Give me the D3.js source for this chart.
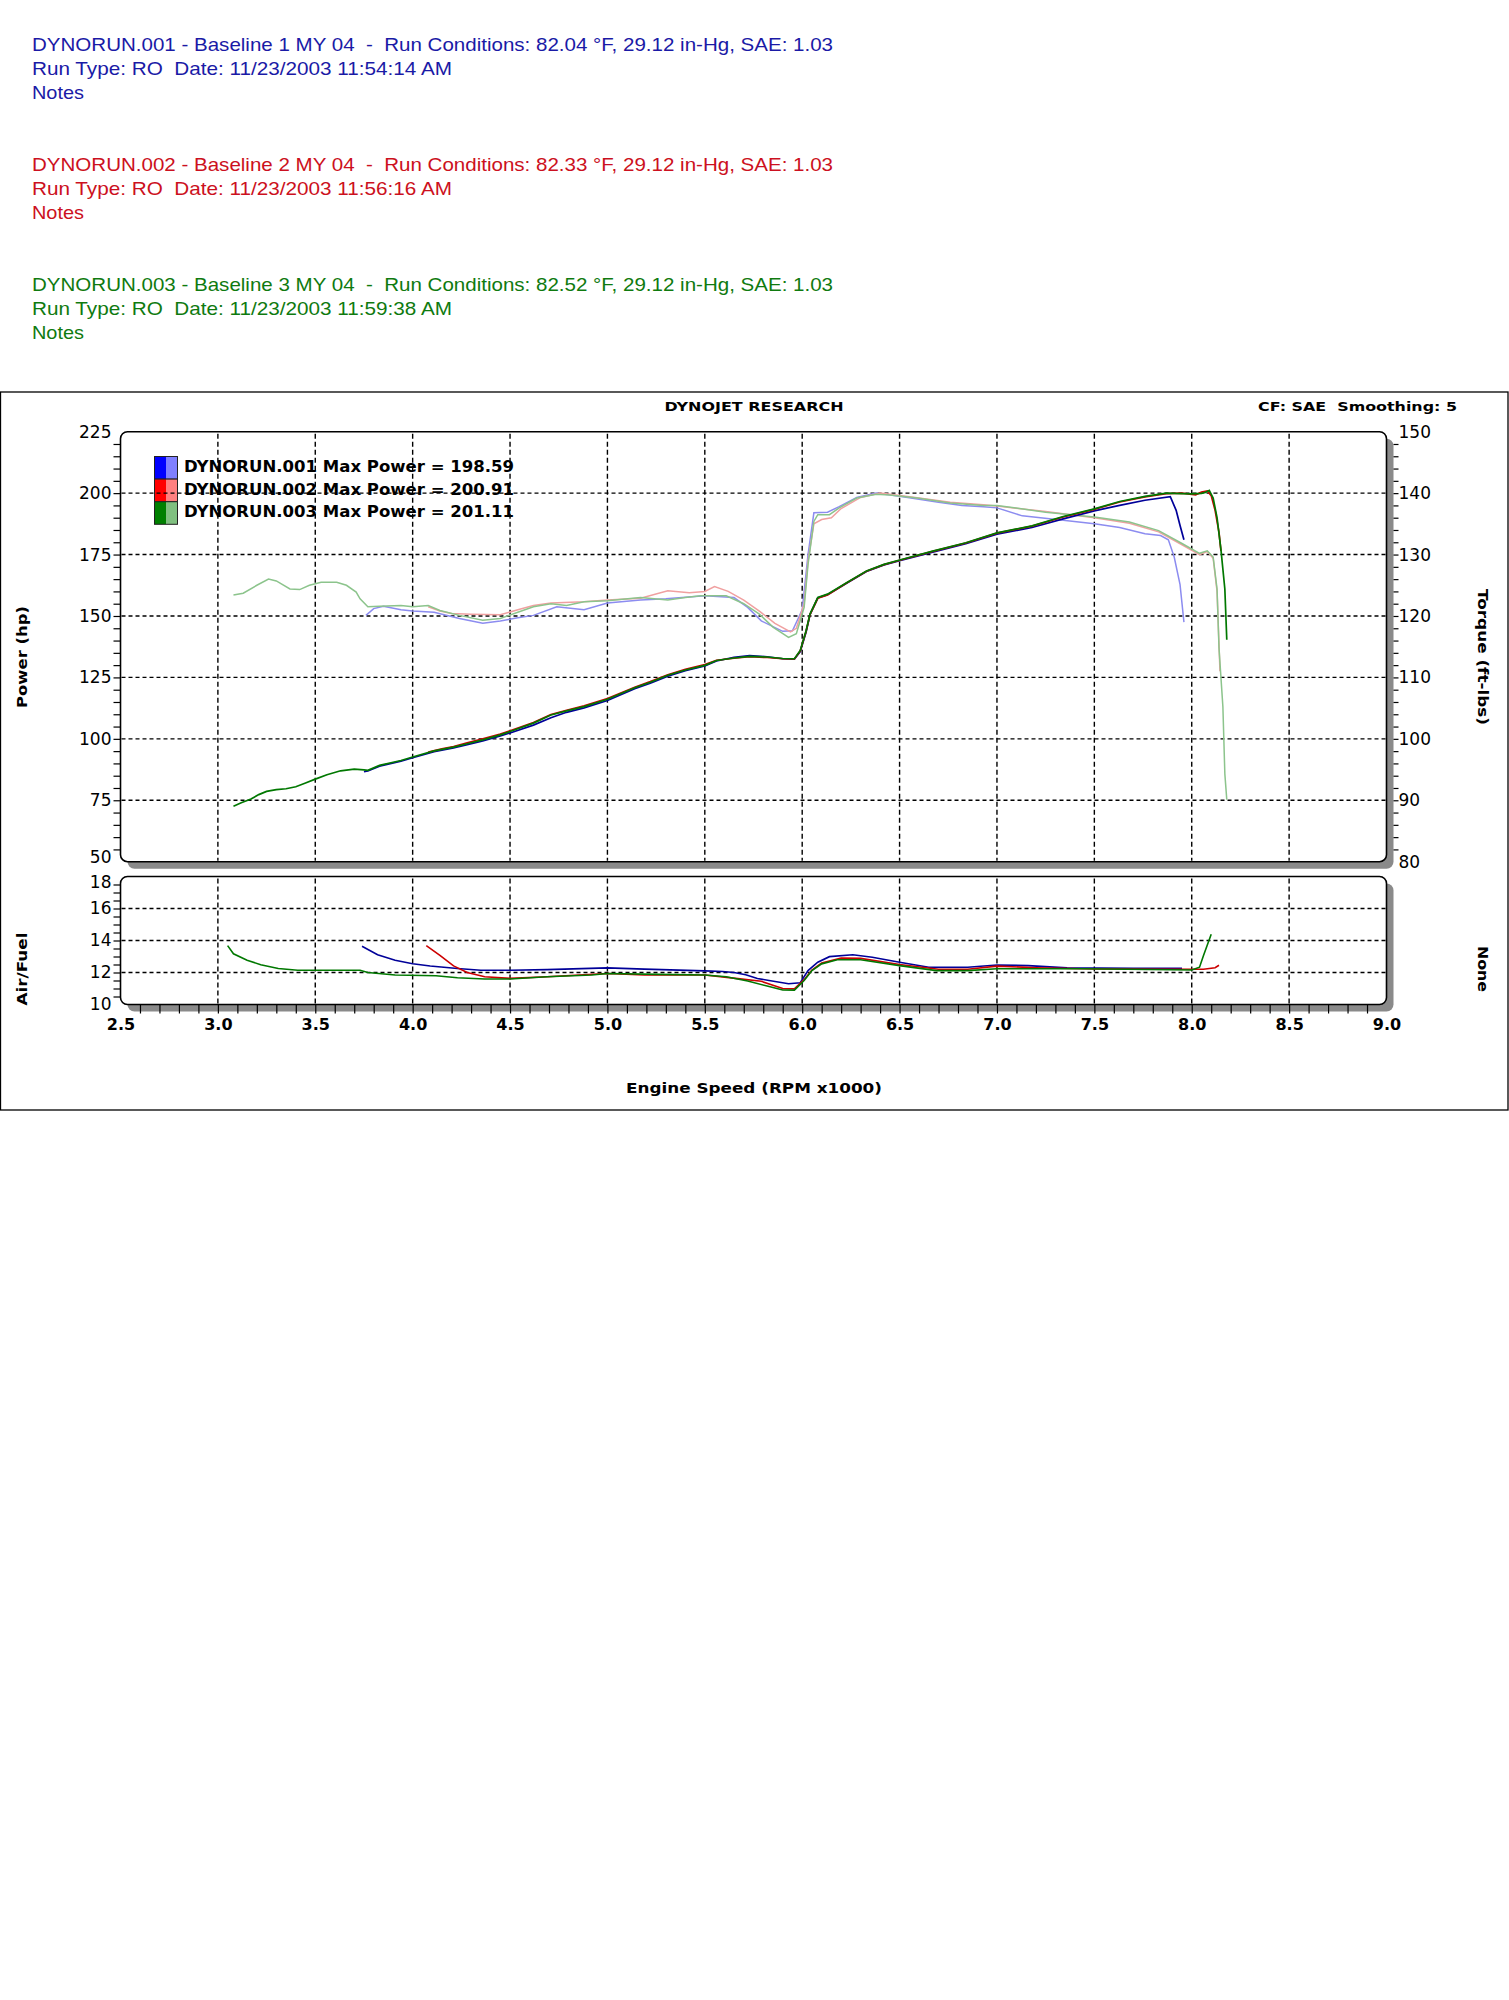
<!DOCTYPE html>
<html><head><meta charset="utf-8">
<script src="https://cdn.jsdelivr.net/npm/d3@7"></script>
<style>body{margin:0;background:#fff}svg{display:block}</style>
</head><body>
<svg id="c" width="1509" height="2000"></svg>
<script>
// ---------- DATA ----------
const runNames = ["DYNORUN.001", "DYNORUN.002", "DYNORUN.003"];
const runTitles = [
  "DYNORUN.001 - Baseline 1 MY 04  -  Run Conditions: 82.04 \u00B0F, 29.12 in-Hg, SAE: 1.03",
  "DYNORUN.002 - Baseline 2 MY 04  -  Run Conditions: 82.33 \u00B0F, 29.12 in-Hg, SAE: 1.03",
  "DYNORUN.003 - Baseline 3 MY 04  -  Run Conditions: 82.52 \u00B0F, 29.12 in-Hg, SAE: 1.03"];
const runDates = [
  "Run Type: RO  Date: 11/23/2003 11:54:14 AM",
  "Run Type: RO  Date: 11/23/2003 11:56:16 AM",
  "Run Type: RO  Date: 11/23/2003 11:59:38 AM"];
const maxPower = ["198.59", "200.91", "201.11"];
const xTicks = [2.5, 3.0, 3.5, 4.0, 4.5, 5.0, 5.5, 6.0, 6.5, 7.0, 7.5, 8.0, 8.5, 9.0];
const hpTicks = [50, 75, 100, 125, 150, 175, 200, 225];
const tqTicks = [80, 90, 100, 110, 120, 130, 140, 150];
const afTicks = [10, 12, 14, 16, 18];

// power (hp) vs rpm x1000
const power1 = [[3.75,86.6],[3.77,86.9],[3.83,88.9],[3.94,90.9],[4.00,92.3],[4.11,94.8],[4.21,96.3],[4.28,97.6],[4.36,99.2],[4.45,101.2],[4.50,102.4],[4.62,105.6],[4.71,108.6],[4.79,110.8],[4.88,112.6],[5.00,115.6],[5.14,120.4],[5.22,122.6],[5.31,125.5],[5.40,127.7],[5.50,129.7],[5.56,131.7],[5.65,133.2],[5.73,133.9],[5.82,133.4],[5.90,132.6],[5.96,132.4],[5.99,135.5],[6.02,143.5],[6.04,150.5],[6.08,157.3],[6.13,158.7],[6.23,163.4],[6.33,168.1],[6.42,170.8],[6.51,172.7],[6.67,176.0],[6.84,179.4],[7.00,183.3],[7.18,186.0],[7.34,189.5],[7.50,192.8],[7.63,195.0],[7.76,197.1],[7.89,198.6],[7.92,193.0],[7.94,186.8],[7.96,181.0]];
const power2 = [[4.08,94.6],[4.15,95.9],[4.21,96.9],[4.28,98.4],[4.36,100.0],[4.45,101.9],[4.50,103.3],[4.62,106.6],[4.71,109.9],[4.79,111.6],[4.88,113.4],[5.00,116.4],[5.14,121.0],[5.22,123.3],[5.31,126.1],[5.40,128.3],[5.50,130.2],[5.56,132.0],[5.65,132.8],[5.73,133.4],[5.82,133.1],[5.90,132.6],[5.96,132.5],[5.99,135.8],[6.02,143.8],[6.04,150.6],[6.08,157.2],[6.13,158.6],[6.23,163.5],[6.33,168.2],[6.42,170.9],[6.51,172.9],[6.67,176.3],[6.84,179.7],[7.00,183.7],[7.18,186.6],[7.34,190.3],[7.50,193.4],[7.63,196.4],[7.76,198.5],[7.87,199.8],[7.95,200.0],[8.00,199.5],[8.02,199.3],[8.05,200.4],[8.08,200.9],[8.10,199.0],[8.12,193.0],[8.14,184.0],[8.15,176.5]];
const power3 = [[3.08,72.6],[3.12,74.0],[3.17,75.5],[3.21,77.3],[3.25,78.6],[3.30,79.3],[3.35,79.7],[3.40,80.5],[3.45,82.0],[3.50,83.6],[3.56,85.4],[3.63,87.0],[3.70,87.7],[3.75,87.4],[3.77,87.2],[3.83,89.2],[3.94,91.2],[4.00,92.6],[4.11,95.1],[4.21,96.6],[4.28,98.0],[4.36,99.6],[4.45,101.6],[4.50,103.0],[4.62,106.4],[4.71,109.7],[4.79,111.4],[4.88,113.1],[5.00,116.1],[5.14,120.8],[5.22,123.0],[5.31,125.9],[5.40,128.0],[5.50,129.9],[5.56,131.9],[5.65,132.9],[5.73,133.6],[5.82,133.3],[5.90,132.7],[5.96,132.6],[5.99,136.0],[6.02,144.0],[6.04,150.8],[6.08,157.5],[6.13,158.9],[6.23,163.6],[6.33,168.3],[6.42,171.0],[6.51,173.0],[6.67,176.4],[6.84,179.8],[7.00,183.8],[7.18,186.7],[7.34,190.5],[7.50,193.6],[7.63,196.6],[7.76,198.7],[7.87,200.0],[7.95,199.8],[8.00,199.7],[8.05,199.9],[8.07,200.3],[8.09,201.1],[8.11,198.0],[8.13,190.0],[8.15,177.0],[8.17,161.0],[8.18,140.3]];

// torque (ft-lbs) vs rpm x1000
const torque1 = [[3.76,120.1],[3.80,121.2],[3.85,121.6],[3.94,121.0],[4.00,120.8],[4.11,120.6],[4.24,119.6],[4.36,118.8],[4.45,119.2],[4.54,119.7],[4.62,120.1],[4.74,121.5],[4.88,121.0],[5.00,122.1],[5.17,122.6],[5.30,122.8],[5.50,123.3],[5.65,123.0],[5.72,121.4],[5.79,119.2],[5.90,117.5],[5.95,117.6],[6.00,121.0],[6.03,130.0],[6.06,136.8],[6.13,136.9],[6.19,137.8],[6.28,139.3],[6.38,140.0],[6.50,139.5],[6.60,139.0],[6.70,138.5],[6.82,138.0],[6.93,137.8],[7.00,137.6],[7.13,136.3],[7.34,135.6],[7.50,135.0],[7.63,134.4],[7.76,133.4],[7.84,133.1],[7.88,132.4],[7.91,129.6],[7.94,125.1],[7.96,119.0]];
const torque2 = [[4.08,121.5],[4.14,120.8],[4.20,120.4],[4.30,120.3],[4.45,120.2],[4.54,121.0],[4.62,121.7],[4.71,122.1],[4.88,122.3],[5.00,122.6],[5.17,122.9],[5.31,124.1],[5.42,123.8],[5.50,124.0],[5.55,124.8],[5.62,124.0],[5.70,122.6],[5.78,120.8],[5.86,118.8],[5.94,117.4],[5.97,118.0],[6.01,122.0],[6.03,129.0],[6.06,135.0],[6.10,135.7],[6.15,136.0],[6.20,137.5],[6.30,139.3],[6.40,140.0],[6.50,139.6],[6.60,139.2],[6.76,138.5],[6.93,138.1],[7.00,137.9],[7.25,137.0],[7.50,136.0],[7.68,135.1],[7.83,133.7],[7.95,131.6],[8.04,130.0],[8.08,130.5],[8.11,129.4],[8.13,124.0],[8.145,111.0]];
const torque3 = [[3.08,123.4],[3.13,123.7],[3.20,125.0],[3.26,126.0],[3.30,125.7],[3.37,124.4],[3.42,124.3],[3.47,125.0],[3.53,125.5],[3.61,125.5],[3.66,125.0],[3.71,123.9],[3.73,122.8],[3.77,121.5],[3.83,121.6],[3.94,121.7],[4.00,121.5],[4.08,121.7],[4.14,120.9],[4.24,120.1],[4.36,119.3],[4.45,119.6],[4.54,120.6],[4.62,121.5],[4.71,122.0],[4.79,121.7],[4.88,122.3],[5.00,122.5],[5.17,123.0],[5.31,122.6],[5.40,123.0],[5.48,123.3],[5.61,123.3],[5.70,122.0],[5.78,120.3],[5.85,118.2],[5.93,116.5],[5.97,117.1],[6.01,121.4],[6.03,128.4],[6.06,135.4],[6.08,136.5],[6.14,136.5],[6.19,137.6],[6.28,139.2],[6.38,139.8],[6.45,139.7],[6.59,139.2],[6.76,138.4],[6.93,138.0],[7.00,138.0],[7.25,136.9],[7.50,136.1],[7.68,135.3],[7.83,133.9],[7.95,131.8],[8.04,130.2],[8.08,130.6],[8.11,129.6],[8.13,124.4],[8.14,114.8],[8.16,105.2],[8.17,94.3],[8.18,90.1]];

// air/fuel ratio vs rpm x1000
const afr1 = [[3.74,13.64],[3.82,13.11],[3.91,12.76],[4.00,12.55],[4.09,12.41],[4.23,12.25],[4.35,12.14],[4.50,12.14],[4.69,12.18],[5.00,12.29],[5.19,12.21],[5.50,12.10],[5.59,12.06],[5.65,12.00],[5.71,11.86],[5.77,11.63],[5.83,11.50],[5.93,11.30],[5.99,11.36],[6.03,12.12],[6.08,12.64],[6.14,12.99],[6.26,13.11],[6.36,12.95],[6.50,12.64],[6.65,12.33],[6.85,12.33],[7.00,12.47],[7.16,12.43],[7.36,12.29],[7.70,12.27],[7.95,12.27]];
const afr2 = [[4.07,13.68],[4.14,13.07],[4.21,12.41],[4.28,12.00],[4.37,11.73],[4.50,11.63],[4.69,11.73],[5.00,11.94],[5.19,11.84],[5.50,11.84],[5.67,11.62],[5.79,11.45],[5.90,11.00],[5.96,10.98],[6.01,11.55],[6.05,12.15],[6.10,12.60],[6.20,12.90],[6.30,12.88],[6.50,12.50],[6.70,12.20],[6.85,12.20],[7.00,12.40],[7.20,12.30],[7.50,12.22],[8.00,12.20],[8.06,12.20],[8.12,12.30],[8.14,12.45]];
const afr3 = [[3.05,13.68],[3.08,13.17],[3.15,12.76],[3.22,12.49],[3.31,12.25],[3.41,12.14],[3.50,12.14],[3.73,12.14],[3.77,12.00],[3.91,11.84],[4.12,11.80],[4.23,11.67],[4.37,11.59],[4.50,11.59],[4.69,11.73],[4.92,11.84],[5.00,11.94],[5.26,11.88],[5.50,11.84],[5.61,11.73],[5.72,11.47],[5.83,11.12],[5.90,10.91],[5.96,10.90],[6.01,11.50],[6.05,12.12],[6.10,12.54],[6.18,12.80],[6.30,12.80],[6.50,12.43],[6.69,12.12],[6.85,12.12],[7.00,12.23],[7.44,12.23],[8.00,12.16],[8.04,12.33],[8.06,13.05],[8.10,14.39]];

// ---------- STYLE ----------
const headColors = ["#1a1aa6", "#cc1020", "#0f7a0f"];
const darkColors = ["#000099", "#cc0000", "#007800"];
const lightColors = ["#8c8cf0", "#f0a0a0", "#8cc48c"];
const swDark = ["#0000ff", "#ff0000", "#008000"];
const swLight = ["#8080ff", "#ff8080", "#80c080"];

const svg = d3.select("#c");
const FONT = "'DejaVu Sans', Verdana, sans-serif";

// ---------- HEADER ----------
const headW = [801, 420, 52];
runTitles.forEach((t, i) => {
  const base = 50.5 + i * 120;
  [t, runDates[i], "Notes"].forEach((s, j) => {
    svg.append("text").attr("x", 32).attr("y", base + j * 24)
      .attr("fill", headColors[i])
      .style("font-family", "'Liberation Sans', Arial, sans-serif")
      .style("font-size", "19px").style("white-space", "pre")
      .attr("textLength", headW[j]).attr("lengthAdjust", "spacingAndGlyphs")
      .text(s);
  });
});

// ---------- FRAME ----------
svg.append("rect").attr("x", 0.5).attr("y", 392).attr("width", 1507.5).attr("height", 718)
  .attr("fill", "none").attr("stroke", "#000").attr("stroke-width", 1.3);

svg.append("text").attr("x", 754).attr("y", 411).attr("text-anchor", "middle")
  .style("font-family", FONT).style("font-weight", "bold").style("font-size", "13px")
  .attr("textLength", 179).attr("lengthAdjust", "spacingAndGlyphs").text("DYNOJET RESEARCH");
svg.append("text").attr("x", 1258).attr("y", 411)
  .style("font-family", FONT).style("font-weight", "bold").style("font-size", "13px")
  .style("white-space", "pre")
  .attr("textLength", 199).attr("lengthAdjust", "spacingAndGlyphs").text("CF: SAE  Smoothing: 5");

// ---------- SCALES ----------
const x = d3.scaleLinear().domain([2.5, 9.0]).range([120.5, 1386.5]);
const yHp = d3.scaleLinear().domain([50, 225]).range([861.7, 431.7]);
const yTq = d3.scaleLinear().domain([80, 150]).range([861.7, 431.7]);
const yAF = d3.scaleLinear().domain([10, 18]).range([1004.5, 876.5]);

// ---------- PANELS ----------
function panel(y0, y1) {
  const x0 = x.range()[0], x1 = x.range()[1];
  svg.append("rect").attr("x", x0 + 7).attr("y", y0 + 7).attr("width", x1 - x0).attr("height", y1 - y0)
    .attr("rx", 7).attr("fill", "#8a8a8a");
  svg.append("rect").attr("x", x0).attr("y", y0).attr("width", x1 - x0).attr("height", y1 - y0)
    .attr("rx", 7).attr("fill", "#fff").attr("stroke", "#000").attr("stroke-width", 1.6);
}
panel(yHp(225), yHp(50));
panel(yAF(18), yAF(10));

// ---------- LEGEND (under grid) ----------
const leg = svg.append("g");
runNames.forEach((n, i) => {
  const ty = 456.5 + i * 22.6;
  leg.append("rect").attr("x", 154.5).attr("y", ty).attr("width", 11.5).attr("height", 22.6).attr("fill", swDark[i]);
  leg.append("rect").attr("x", 166).attr("y", ty).attr("width", 11.5).attr("height", 22.6).attr("fill", swLight[i]);
  leg.append("rect").attr("x", 154.5).attr("y", ty).attr("width", 23).attr("height", 22.6)
    .attr("fill", "none").attr("stroke", "#222").attr("stroke-width", 1);
  leg.append("text").attr("x", 184).attr("y", 472.3 + i * 22.3)
    .style("font-family", FONT).style("font-weight", "bold").style("font-size", "15px")
    .attr("textLength", 330).attr("lengthAdjust", "spacingAndGlyphs")
    .text(n + " Max Power = " + maxPower[i]);
});

// ---------- GRID ----------
const grid = svg.append("g").attr("stroke", "#000").attr("stroke-width", 1.4);
const innerX = xTicks.slice(1, -1);
[[yHp(225), yHp(50)], [yAF(18), yAF(10)]].forEach(([a, b]) => {
  grid.selectAll(null).data(innerX).enter().append("line")
    .attr("x1", d => x(d)).attr("x2", d => x(d)).attr("y1", a + 2).attr("y2", b - 1)
    .attr("stroke-dasharray", "5,3");
});
grid.selectAll(null).data(hpTicks.slice(1, -1)).enter().append("line")
  .attr("x1", x(2.5) + 1).attr("x2", x(9.0) - 1).attr("y1", d => yHp(d)).attr("y2", d => yHp(d))
  .attr("stroke-dasharray", "4,3");
grid.selectAll(null).data(afTicks.slice(1, -1)).enter().append("line")
  .attr("x1", x(2.5) + 1).attr("x2", x(9.0) - 1).attr("y1", d => yAF(d)).attr("y2", d => yAF(d))
  .attr("stroke-dasharray", "4,3");

// ---------- AXES ----------
function styleAxis(g, size, weight) {
  g.select(".domain").remove();
  g.selectAll("text").style("font-family", FONT).style("font-size", size + "px")
    .style("font-weight", weight).attr("fill", "#000");
  g.selectAll("line").attr("stroke", "#000").attr("stroke-width", 1.2);
  return g;
}
// left hp labels & minor ticks
const hpAxis = styleAxis(svg.append("g").attr("transform", `translate(${x(2.5)},0)`)
  .call(d3.axisLeft(yHp).tickValues(hpTicks).tickSize(0).tickPadding(9).tickFormat(d3.format("d"))), 17, "normal");
hpAxis.selectAll(".tick text").filter(d => d === 50).attr("dy", "0.05em");
styleAxis(svg.append("g").attr("transform", `translate(${x(2.5)},0)`)
  .call(d3.axisLeft(yHp).tickValues(d3.range(55, 225, 5)).tickSize(7).tickFormat("")), 1, "normal");
// right torque labels & ticks
styleAxis(svg.append("g").attr("transform", `translate(${x(9.0) + 7},0)`)
  .call(d3.axisRight(yTq).tickValues(tqTicks).tickSize(0).tickPadding(5).tickFormat(d3.format("d"))), 17, "normal");
styleAxis(svg.append("g").attr("transform", `translate(${x(9.0) + 7},0)`)
  .call(d3.axisRight(yTq).tickValues(d3.range(82, 150, 2)).tickSize(5).tickFormat("")), 1, "normal");
// left A/F
const afAxis = styleAxis(svg.append("g").attr("transform", `translate(${x(2.5)},0)`)
  .call(d3.axisLeft(yAF).tickValues(afTicks).tickSize(0).tickPadding(9).tickFormat(d3.format("d"))), 17, "normal");
afAxis.selectAll(".tick text").filter(d => d === 18).attr("dy", "0.62em");
styleAxis(svg.append("g").attr("transform", `translate(${x(2.5)},0)`)
  .call(d3.axisLeft(yAF).tickValues(d3.range(10.5, 18, 0.5)).tickSize(7).tickFormat("")), 1, "normal");
// bottom rpm
styleAxis(svg.append("g").attr("transform", `translate(0,${yAF(10) + 8})`)
  .call(d3.axisBottom(x).tickValues(xTicks).tickSize(0).tickPadding(6).tickFormat(d3.format(".1f"))), 16, "bold");
styleAxis(svg.append("g").attr("transform", `translate(0,${yAF(10)})`)
  .call(d3.axisBottom(x).tickValues(d3.range(26, 90, 1).map(v => v / 10)).tickSize(9).tickFormat("")), 1, "normal");

// ---------- AXIS TITLES ----------
function title(t, tx, ty, rot, w) {
  svg.append("text").attr("transform", `translate(${tx},${ty}) rotate(${rot})`)
    .attr("text-anchor", "middle").style("font-family", FONT).style("font-weight", "bold")
    .style("font-size", "14px").attr("textLength", w).attr("lengthAdjust", "spacingAndGlyphs").text(t);
}
title("Power (hp)", 27, 657, -90, 102);
title("Torque (ft-lbs)", 1478, 657, 90, 136);
title("Air/Fuel", 27, 969, -90, 73);
title("None", 1478, 969, 90, 46);
svg.append("text").attr("x", 754).attr("y", 1093).attr("text-anchor", "middle")
  .style("font-family", FONT).style("font-weight", "bold").style("font-size", "14px")
  .attr("textLength", 256).attr("lengthAdjust", "spacingAndGlyphs").text("Engine Speed (RPM x1000)");

// ---------- CURVES ----------
const lineHp = d3.line().x(d => x(d[0])).y(d => yHp(d[1]));
const lineTq = d3.line().x(d => x(d[0])).y(d => yTq(d[1]));
const lineAF = d3.line().x(d => x(d[0])).y(d => yAF(d[1]));
const torques = [torque1, torque2, torque3];
const powers = [power1, power2, power3];
const afrs = [afr1, afr2, afr3];
torques.forEach((s, i) => svg.append("path").attr("d", lineTq(s)).attr("fill", "none")
  .attr("stroke", lightColors[i]).attr("stroke-width", 1.5));
powers.forEach((s, i) => svg.append("path").attr("d", lineHp(s)).attr("fill", "none")
  .attr("stroke", darkColors[i]).attr("stroke-width", 1.7));
afrs.forEach((s, i) => svg.append("path").attr("d", lineAF(s)).attr("fill", "none")
  .attr("stroke", darkColors[i]).attr("stroke-width", 1.6));
</script>
</body></html>
